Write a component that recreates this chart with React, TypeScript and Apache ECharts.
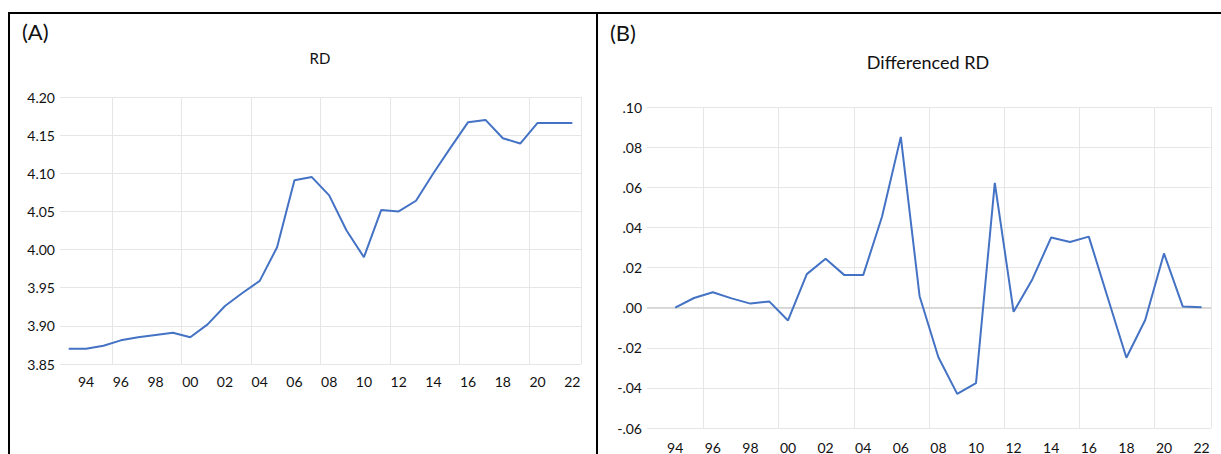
import React, { useEffect, useRef } from "react";
import * as echarts from "echarts";

const years: string[] = [
  "1993","1994","1995","1996","1997","1998","1999","2000","2001","2002",
  "2003","2004","2005","2006","2007","2008","2009","2010","2011","2012",
  "2013","2014","2015","2016","2017","2018","2019","2020","2021","2022",
];

const rd: number[] = [
  3.870, 3.870, 3.874, 3.881, 3.885, 3.888, 3.891, 3.885, 3.902, 3.926,
  3.943, 3.959, 4.003, 4.091, 4.095, 4.071, 4.025, 3.990, 4.052, 4.050,
  4.064, 4.100, 4.134, 4.167, 4.170, 4.146, 4.139, 4.166, 4.166, 4.166,
];

const drd: (number | null)[] = [
  null, 0.0000, 0.0048, 0.0077, 0.0046, 0.0020, 0.0031, -0.0064, 0.0167, 0.0244,
  0.0162, 0.0162, 0.0453, 0.0851, 0.0057, -0.0247, -0.0430, -0.0376, 0.0622, -0.0021,
  0.0142, 0.0350, 0.0327, 0.0354, 0.0052, -0.0250, -0.0062, 0.0270, 0.0005, 0.0002,
];

const FONT = "Lato, 'Noto Sans', sans-serif";
const LINE = "#4472C4";
const GRID = "#e6e6e6";
const TXT = "#111";

export default function App() {
  const ref = useRef<HTMLDivElement>(null);
  useEffect(() => {
    if (!ref.current) return;
    const chart = echarts.init(ref.current, undefined, { renderer: "svg" });
    const xAxisBase = (gridIndex: number, margin: number) => ({
      type: "category" as const,
      gridIndex,
      data: years,
      boundaryGap: true,
      axisLine: { show: false },
      axisTick: { show: false },
      axisLabel: {
        interval: (i: number) => i % 2 === 1,
        formatter: (v: string) => v.slice(2),
        color: TXT,
        fontFamily: FONT,
        fontSize: 14,
        margin,
      },
      splitLine: {
        show: true,
        interval: (i: number) => i % 4 === 3,
        lineStyle: { color: GRID, width: 1 },
      },
    });
    chart.setOption({
      animation: false,
      grid: [
        { left: 60, top: 97, width: 521, height: 267 },
        { left: 647, top: 107, width: 564, height: 326 },
      ],
      xAxis: [xAxisBase(0, 10), xAxisBase(1, 12)],
      yAxis: [
        {
          type: "value",
          gridIndex: 0,
          min: 3.85,
          max: 4.2,
          interval: 0.05,
          axisLine: { show: false },
          axisTick: { show: false },
          axisLabel: {
            formatter: (v: number) => v.toFixed(2),
            color: TXT,
            fontFamily: FONT,
            fontSize: 14,
            margin: 5,
          },
          splitLine: { lineStyle: { color: GRID, width: 1 } },
        },
        {
          type: "value",
          gridIndex: 1,
          min: -0.06,
          max: 0.1,
          interval: 0.02,
          axisLine: { show: false },
          axisTick: { show: false },
          axisLabel: {
            formatter: (v: number) => v.toFixed(2).replace("0.", "."),
            color: TXT,
            fontFamily: FONT,
            fontSize: 14,
            margin: 5,
          },
          splitLine: { lineStyle: { color: GRID, width: 1 } },
        },
      ],
      series: [
        {
          type: "line",
          xAxisIndex: 0,
          yAxisIndex: 0,
          data: rd,
          symbol: "none",
          lineStyle: { color: LINE, width: 2 },
        },
        {
          type: "line",
          xAxisIndex: 1,
          yAxisIndex: 1,
          data: drd,
          symbol: "none",
          lineStyle: { color: LINE, width: 2 },
          markLine: {
            silent: true,
            symbol: "none",
            label: { show: false },
            lineStyle: { color: "#cfcfcf", width: 1.5, type: "solid" },
            data: [{ yAxis: 0 }],
            z: 1,
          },
          z: 3,
        },
      ],
      graphic: [
        {
          type: "rect",
          shape: { x: 9, y: 13, width: 588, height: 470 },
          style: { fill: "none", stroke: "#000", lineWidth: 2 },
          silent: true,
        },
        {
          type: "rect",
          shape: { x: 597, y: 13, width: 640, height: 470 },
          style: { fill: "none", stroke: "#000", lineWidth: 2 },
          silent: true,
        },
        {
          type: "text",
          x: 22,
          y: 31,
          style: { text: "(A)", fontFamily: FONT, fontSize: 22, fill: TXT, textVerticalAlign: "middle" },
        },
        {
          type: "text",
          x: 610,
          y: 32,
          style: { text: "(B)", fontFamily: FONT, fontSize: 22, fill: TXT, textVerticalAlign: "middle" },
        },
        {
          type: "text",
          x: 320,
          y: 58,
          style: { text: "RD", fontFamily: FONT, fontSize: 15, fill: TXT, textAlign: "center", textVerticalAlign: "middle" },
        },
        {
          type: "text",
          x: 928,
          y: 62,
          style: { text: "Differenced RD", fontFamily: FONT, fontSize: 18, fill: TXT, textAlign: "center", textVerticalAlign: "middle" },
        },
      ],
    });
    return () => chart.dispose();
  }, []);
  return (
    <div
      ref={ref}
      style={{ position: "fixed", left: 0, top: 0, width: 1221, height: 454, background: "#fff" }}
    />
  );
}
